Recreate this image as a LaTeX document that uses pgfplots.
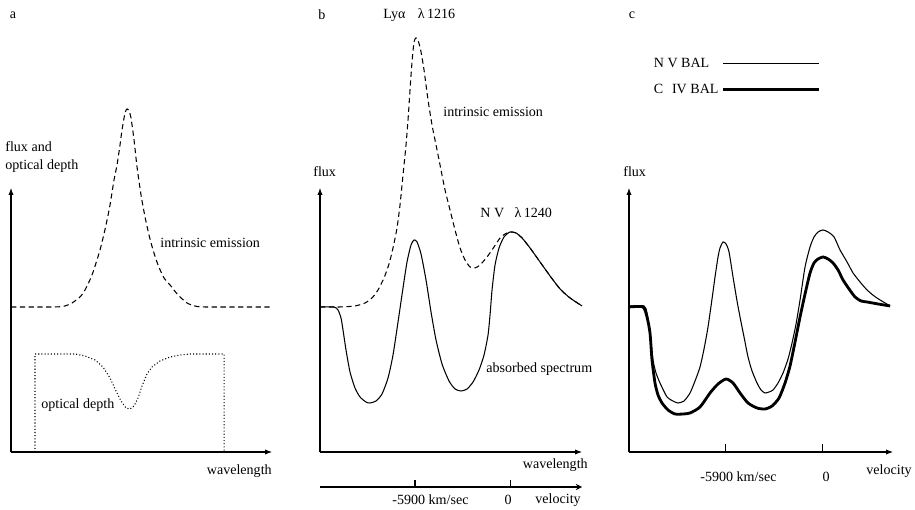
\documentclass[border=0pt]{standalone}
\usepackage{fontspec}
\setmainfont{Liberation Serif}
\usepackage{pgfplots}
\pgfplotsset{compat=1.18}
\usetikzlibrary{arrows.meta}

% all three panels share one pixel grid (1 px = 0.02cm, y measured from the bottom)
\pgfplotsset{
  panel/.style={
    scale only axis, x=0.02cm, y=0.02cm,
    axis lines=left,
    axis line style={line width=0.6pt, -{Latex[length=4pt,width=3pt]}},
    xtick=\empty, ytick=\empty,
    enlargelimits=false, clip=false,
    anchor=south west,
    every axis plot/.append style={line width=0.6pt, black},
    nodes={inner sep=0pt},
  },
  dashes/.style={dash pattern=on 3pt off 2pt},
  dots/.style={dash pattern=on 0.6pt off 1.2pt},
}

\begin{document}
\begin{tikzpicture}[font=\fontsize{8}{10}\selectfont]
\useasboundingbox (0,0) rectangle (18.3cm,10.18cm);

% ---------------- panel a ----------------
\begin{axis}[panel, at={(0.22cm,1.14cm)}, xmin=11, xmax=272, ymin=57, ymax=321]
\addplot[dashes, smooth, tension=0.4] coordinates {
 (11,202) (55,202) (65,203) (72,206) (80,212) (85,219) (92,234) (100,259)
 (106,284) (110,304) (114,329) (117,344) (120,364) (122,379) (125,396) (127,400)
 (129,398) (131,391) (134,369) (137,342) (141,314) (145,292) (149,274) (153,259)
 (158,244) (164,231) (170,224) (178,214) (187,206) (195,203) (205,202) (272,202)};
\addplot[dots] coordinates {
 (35,57) (35,155) (75,155) (85,153) (95,149) (103,142) (110,131) (116,118)
 (121,108) (126,101) (130,100) (134,103) (138,111) (142,123) (147,135) (152,142)
 (160,148) (170,152) (180,154) (190,155) (224,155) (224,57)};
\node[anchor=center] at (axis cs:13,494) {a};
\node[anchor=west, align=left] at (axis cs:5,352) {flux and\\optical depth};
\node[anchor=west] at (axis cs:160,266) {intrinsic emission};
\node[anchor=west] at (axis cs:41,104) {optical depth};
\node[anchor=east] at (axis cs:272,38) {wavelength};
\end{axis}

% ---------------- panel b ----------------
\begin{axis}[panel, at={(6.40cm,1.14cm)}, xmin=320, xmax=582, ymin=57, ymax=321]
\addplot[dashes, smooth, tension=0.4] coordinates {
 (320,202) (340,202) (355,203) (365,206) (372,211) (378,219) (384,231) (389,245)
 (393,261) (397,281) (400,304) (403,334) (406,364) (408,389) (410,419) (412,447)
 (414,467) (416,471) (418,469) (421,457) (424,439) (428,409) (432,384) (436,364)
 (440,344) (445,319) (450,299) (455,279) (460,261) (465,249) (470,242) (475,241)
 (480,244) (487,252) (494,262) (500,271) (505,275) (510,277) (516,276) (522,271)
 (530,261) (540,247) (550,233) (560,220) (570,211) (582,203)};
\addplot[smooth, tension=0.4] coordinates {
 (320,202) (334,202) (338,199) (341,191) (343,179) (346,159) (350,137) (355,121)
 (360,112) (366,107) (370,106) (376,108) (382,115) (388,131) (393,154) (398,187)
 (403,221) (407,247) (411,264) (414,269) (417,267) (421,255) (426,229) (431,197)
 (436,169) (442,145) (449,128) (455,120) (461,118) (467,120) (473,127) (479,139)
 (484,154) (488,174) (490,194) (492,219) (495,244) (499,261) (504,272) (510,277)
 (516,276) (522,271) (530,261) (540,247) (550,233) (560,220) (570,211) (582,203)};
\node[anchor=center] at (axis cs:322,494) {b};
\node[anchor=west] at (axis cs:383,494) {Lyα\hspace{7pt}λ\,1216};
\node[anchor=west] at (axis cs:313,337) {flux};
\node[anchor=west] at (axis cs:443,397) {intrinsic emission};
\node[anchor=west] at (axis cs:480,296) {N V\hspace{6pt}λ\,1240};
\node[anchor=west] at (axis cs:486,140) {absorbed spectrum};
\node[anchor=east] at (axis cs:588,44) {wavelength};
\end{axis}

% velocity scale under panel b
\begin{axis}[panel, at={(6.40cm,0.44cm)}, xmin=320, xmax=582, ymin=0, ymax=1,
  axis x line=bottom, axis y line=none,
  xtick={415,510}, xticklabels={{},{}}, tick align=inside,
  major tick length=4pt, tick style={line width=0.6pt, black}]
\node[anchor=west] at (axis cs:392,-13) {-5900 km/sec};
\node[anchor=center] at (axis cs:508,-13) {0};
\node[anchor=west] at (axis cs:535,-13) {velocity};
\end{axis}

% ---------------- panel c ----------------
\begin{axis}[panel, at={(12.58cm,1.14cm)}, xmin=629, xmax=893, ymin=57, ymax=321,
  xtick={725,822}, xticklabels={{},{}}, tick align=inside,
  major tick length=4.5pt, tick style={line width=0.6pt, black},
  legend plot pos=right, legend cell align=left,
  legend image code/.code={\draw[#1] (0cm,0cm) -- (1.92cm,0cm);},
  legend style={at={(axis cs:650,455)}, anchor=north west, draw=none, fill=none,
    inner sep=0pt, row sep=4pt, font=\fontsize{8}{10}\selectfont}]
\addplot[smooth, tension=0.4] coordinates {
 (629,203) (644,203) (647,196) (650,176) (653,149) (656,136) (660,126) (667,112)
 (673,108) (678,106) (684,108) (690,116) (695,128) (700,142) (704,160) (708,182)
 (712,210) (715,232) (718,252) (720,261) (723,267) (726,265) (729,257) (733,232)
 (737,208) (740,192) (744,172) (748,152) (752,138) (757,126) (761,119) (765,116)
 (769,117) (773,119) (778,126) (783,136) (788,150) (792,166) (796,185) (800,209)
 (805,242) (810,262) (814,272) (818,277) (823,279) (828,277) (834,272) (840,259)
 (847,247) (853,236) (860,227) (867,219) (874,213) (880,209) (890,203)};
\addlegendentry{N V BAL}
\addplot[smooth, tension=0.4, line width=1.6pt] coordinates {
 (629,202) (643,202) (647,192) (650,176) (652,149) (655,126) (658,114) (662,106)
 (668,99) (675,95) (683,95) (690,96) (700,102) (710,116) (718,125) (726,130)
 (733,126) (740,116) (748,106) (757,101) (765,100) (772,103) (779,111) (785,126)
 (790,143) (795,167) (800,192) (805,215) (810,236) (814,246) (818,250) (823,252)
 (828,250) (833,246) (838,239) (843,229) (849,220) (855,212) (861,208) (867,207)
 (878,205) (890,203)};
\addlegendentry{C\hspace{5pt}IV BAL}
\node[anchor=center] at (axis cs:632,494) {c};
\node[anchor=west] at (axis cs:623,337) {flux};
\node[anchor=west] at (axis cs:700,32) {-5900 km/sec};
\node[anchor=center] at (axis cs:826,32) {0};
\node[anchor=west] at (axis cs:866,38) {velocity};
\end{axis}
\end{tikzpicture}
\end{document}
